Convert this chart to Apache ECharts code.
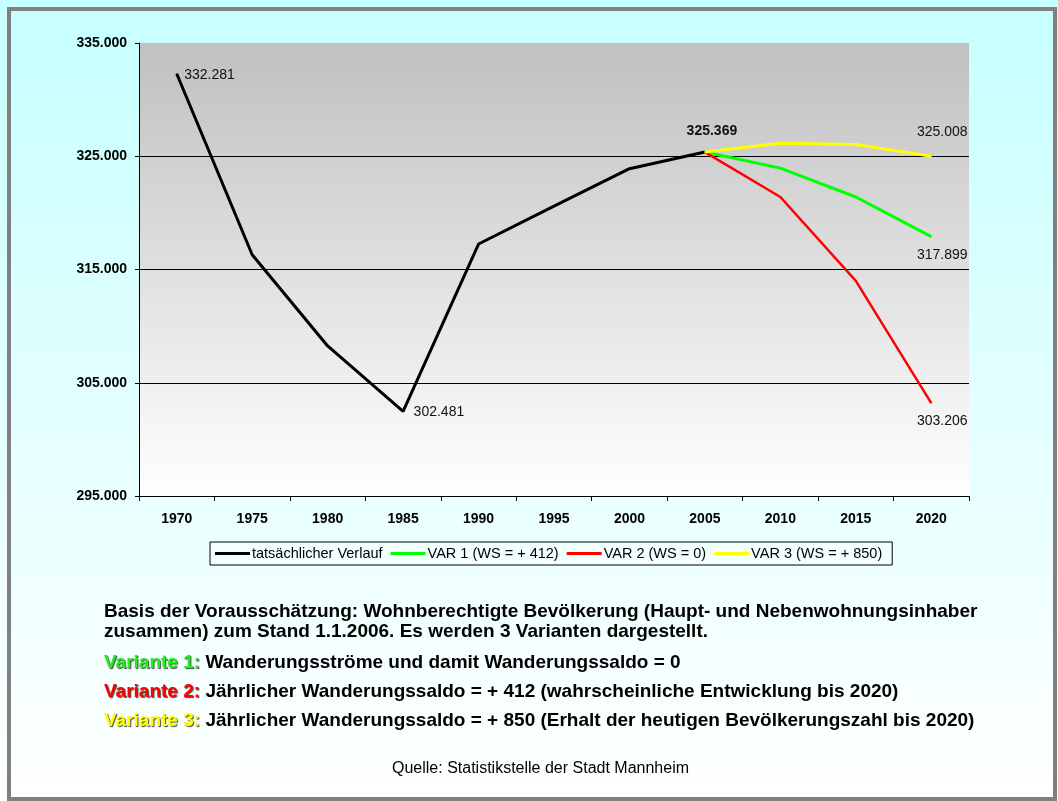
<!DOCTYPE html>
<html><head><meta charset="utf-8">
<script src="https://cdn.jsdelivr.net/npm/echarts@6/dist/echarts.min.js"></script>
<style>html,body{margin:0;padding:0;background:#fff}#c{width:1058px;height:801px}</style>
</head><body><div id="c"></div>
<script>
const years = ['1970','1975','1980','1985','1990','1995','2000','2005','2010','2015','2020'];
const actual = [332281, 316300, 308250, 302481, 317250, 320600, 323900, 325369, null, null, null];
const var1 = [null, null, null, null, null, null, null, 325369, 323950, 321400, 317899];
const var2 = [null, null, null, null, null, null, null, 325369, 321400, 314000, 303206];
const var3 = [null, null, null, null, null, null, null, 325369, 326150, 326030, 325008];
const seriesNames = ['tatsächlicher Verlauf', 'VAR 1 (WS = + 412)', 'VAR 2 (WS = 0)', 'VAR 3 (WS = + 850)'];
const yTicks = [295000, 305000, 315000, 325000, 335000];

const fmt = v => String(v).replace(/\B(?=(\d{3})+(?!\d))/g, '.');
const FONT = '"Liberation Sans", Arial, sans-serif';

function build(arr, labels) {
  return arr.map((v, i) => {
    if (v === null) return '-';
    const l = labels[i];
    if (!l) return v;
    return { value: v, label: Object.assign({ show: true, formatter: p => fmt(p.value), fontFamily: FONT, fontSize: 14, color: '#111' }, l) };
  });
}

const TS = 19;
const T = (txt, x, y, extra) => Object.assign({ type: 'text', x: x, y: y, z: 50,
  style: Object.assign({ text: txt, fontFamily: FONT, fontSize: TS, fontWeight: 'bold', fill: '#000', verticalAlign: 'middle', align: 'left' }, extra || {}) });
const shadowRich = (c) => ({ fontFamily: FONT, fontSize: TS, fontWeight: 'bold', fill: c, textShadowColor: '#444', textShadowOffsetX: 1, textShadowOffsetY: 1, textShadowBlur: 1 });
const blk = { fontFamily: FONT, fontSize: TS, fontWeight: 'bold', fill: '#000' };

const chart = echarts.init(document.getElementById('c'), null, { renderer: 'canvas' });
const option = {
  animation: false,
  graphic: [
    { type: 'rect', z: -10, shape: { x: 0, y: 0, width: 1058, height: 801 },
      style: { fill: new echarts.graphic.LinearGradient(0, 0, 0, 1, [
        { offset: 0, color: '#C6FFFF' }, { offset: 0.7, color: '#EEFFFF' }, { offset: 1, color: '#FFFFFF' }]) } },
    { type: 'rect', z: 100, shape: { x: 9, y: 9, width: 1046, height: 790 },
      style: { fill: 'none', stroke: '#808080', lineWidth: 4 } },
    T('Basis der Vorausschätzung: Wohnberechtigte Bevölkerung (Haupt- und Nebenwohnungsinhaber', 104, 612),
    T('zusammen) zum Stand 1.1.2006. Es werden 3 Varianten dargestellt.', 104, 632),
    T('{g|Variante 1:}{b| Wanderungsströme und damit Wanderungssaldo = 0}', 104, 663, { rich: { g: shadowRich('#22EE22'), b: blk } }),
    T('{r|Variante 2:}{b| Jährlicher Wanderungssaldo = + 412 (wahrscheinliche Entwicklung bis 2020)}', 104, 692, { rich: { r: shadowRich('#FF0000'), b: blk } }),
    T('{y|Variante 3:}{b| Jährlicher Wanderungssaldo = + 850 (Erhalt der heutigen Bevölkerungszahl bis 2020)}', 104, 721, { rich: { y: shadowRich('#FFFF00'), b: blk } }),
    T('Quelle: Statistikstelle der Stadt Mannheim', 392, 769, { fontSize: 16, fontWeight: 'normal' })
  ],
  grid: { left: 139, right: 89, top: 43, bottom: 305, show: true, borderWidth: 0,
    backgroundColor: new echarts.graphic.LinearGradient(0, 0, 0, 1, [{ offset: 0, color: '#C0C0C0' }, { offset: 1, color: '#FFFFFF' }]) },
  legend: {
    left: 210, top: 542, padding: [4, 10, 4, 5], itemGap: 8,
    borderColor: '#000', borderWidth: 1, backgroundColor: 'rgba(255,255,255,0.3)',
    itemWidth: 35, itemHeight: 3, icon: 'rect',
    textStyle: { fontFamily: FONT, fontSize: 14.5, color: '#000', padding: [0, 0, 0, -3] },
    data: seriesNames
  },
  xAxis: {
    type: 'category', data: years, boundaryGap: true,
    axisLine: { lineStyle: { color: '#000', width: 1 } },
    axisTick: { show: true, interval: 0, length: 5, lineStyle: { color: '#000' } },
    axisLabel: { interval: 0, fontFamily: FONT, fontSize: 14, fontWeight: 'bold', color: '#000', margin: 16 },
    splitLine: { show: false }
  },
  yAxis: {
    type: 'value', min: yTicks[0], max: yTicks[yTicks.length - 1], interval: 10000,
    axisLine: { show: true, lineStyle: { color: '#000', width: 1 } },
    axisTick: { show: true, length: 4, lineStyle: { color: '#000' } },
    axisLabel: { fontFamily: FONT, fontSize: 14, fontWeight: 'bold', color: '#000', margin: 12, formatter: v => fmt(v) },
    splitLine: { show: true, lineStyle: { color: ['#000', '#000', '#000', '#000', 'rgba(0,0,0,0)'], width: 1 } }
  },
  series: [
    { name: seriesNames[0], type: 'line', showSymbol: true, symbol: 'circle', symbolSize: 1, z: 3,
      lineStyle: { color: '#000', width: 3 }, itemStyle: { color: '#000' },
      data: build(actual, { 0: { position: 'right', offset: [2, 1] }, 3: { position: 'right', offset: [5, 1] },
        7: { position: 'top', offset: [7, -8], fontWeight: 'bold' } }) },
    { name: seriesNames[1], type: 'line', showSymbol: true, symbol: 'circle', symbolSize: 1, z: 4,
      lineStyle: { color: '#00FF00', width: 3 }, itemStyle: { color: '#00FF00' },
      data: build(var1, { 10: { position: 'bottom', offset: [11, 6] } }) },
    { name: seriesNames[2], type: 'line', showSymbol: true, symbol: 'circle', symbolSize: 1, z: 5,
      lineStyle: { color: '#FF0000', width: 2.5 }, itemStyle: { color: '#FF0000' },
      data: build(var2, { 10: { position: 'bottom', offset: [11, 6] } }) },
    { name: seriesNames[3], type: 'line', showSymbol: true, symbol: 'circle', symbolSize: 1, z: 6,
      lineStyle: { color: '#FFFF00', width: 3 }, itemStyle: { color: '#FFFF00' },
      data: build(var3, { 10: { position: 'top', offset: [11, -12] } }) }
  ]
};
chart.setOption(option);
</script></body></html>
